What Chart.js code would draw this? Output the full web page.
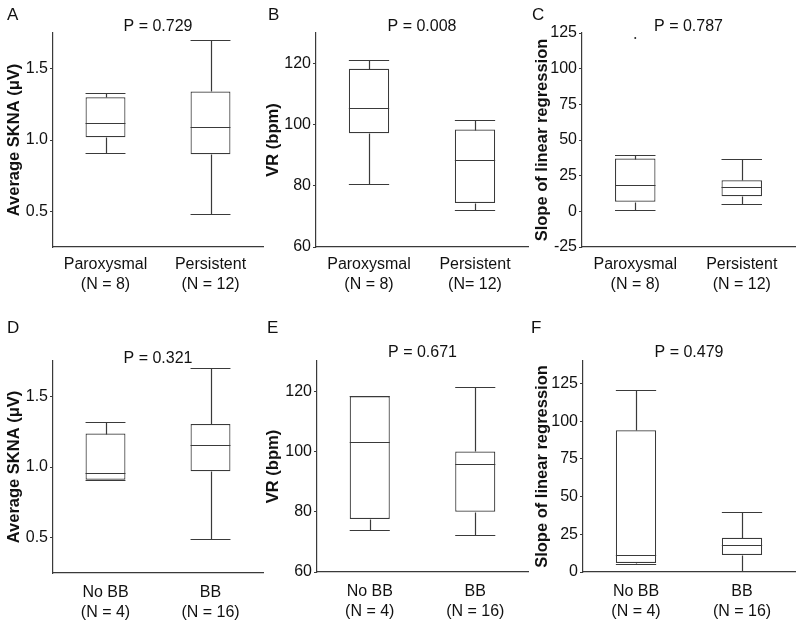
<!DOCTYPE html>
<html>
<head>
<meta charset="utf-8">
<script src="https://cdn.jsdelivr.net/npm/chart.js@4.4.1/dist/chart.umd.min.js"></script>
<style>
  html, body { margin: 0; padding: 0; background: #fff; }
  #wrap { position: relative; width: 800px; height: 624px; overflow: hidden; }
  #wrap canvas { position: absolute; }
</style>
</head>
<body>
<div id="wrap"></div>
<script>
'use strict';

/* ── Categories ─────────────────────────────────────────────────────────── */
const afGroups   = ['Paroxysmal', 'Persistent'];
const afCounts   = ['(N = 8)', '(N = 12)'];
const afCountsB  = ['(N = 8)', '(N= 12)'];
const bbGroups   = ['No BB', 'BB'];
const bbCounts   = ['(N = 4)', '(N = 16)'];

/* ── Tick labels ────────────────────────────────────────────────────────── */
const sknaTicks  = [0.5, 1.0, 1.5];
const vrTicks    = [60, 80, 100, 120];
const slopeTicksC = [-25, 0, 25, 50, 75, 100, 125];
const slopeTicksF = [0, 25, 50, 75, 100, 125];

/* ── A: average SKNA by AF type ─────────────────────────────────────────── */
const aMin = [0.91, 0.48];
const aQ1  = [1.02, 0.90];
const aMed = [1.12, 1.09];
const aQ3  = [1.30, 1.34];
const aMax = [1.33, 1.70];

/* ── B: VR by AF type ───────────────────────────────────────────────────── */
const bMin = [80.7, 72.2];
const bQ1  = [97.2, 74.4];
const bMed = [105.5, 88.4];
const bQ3  = [118.3, 98.4];
const bMax = [121.3, 101.4];

/* ── C: slope by AF type ────────────────────────────────────────────────── */
const cMin = [0.7, 5.4];
const cQ1  = [6.8, 10.6];
const cMed = [18.4, 16.8];
const cQ3  = [37.0, 21.7];
const cMax = [39.8, 37.0];
const cOutlier = [121.5, null];

/* ── D: average SKNA by beta blocker ────────────────────────────────────── */
const dMin = [0.91, 0.49];
const dQ1  = [0.91, 0.97];
const dMed = [0.96, 1.155];
const dQ3  = [1.237, 1.304];
const dMax = [1.321, 1.70];

/* ── E: VR by beta blocker ──────────────────────────────────────────────── */
const eMin = [73.8, 72.3];
const eQ1  = [77.6, 80.0];
const eMed = [103.0, 95.8];
const eQ3  = [118.3, 100.0];
const eMax = [118.3, 121.3];

/* ── F: slope by beta blocker ───────────────────────────────────────────── */
const fMin = [5.5, 0.7];
const fQ1  = [6.0, 11.3];
const fMed = [11.0, 18.0];
const fQ3  = [94.0, 22.7];
const fMax = [121.0, 40.0];

const INK   = '#3a3a3a';
const TEXT  = '#111111';
const FONT  = "'Liberation Sans', Arial, sans-serif";
const X_AXIS_H = 50;

Chart.defaults.font.family = FONT;
Chart.defaults.color = TEXT;

/* ── Whiskers, caps and median drawn on top of the floating box bars ─────── */
const boxplotPlugin = {
  id: 'boxplot',
  afterDatasetsDraw(chart, args, opts) {
    const meta = chart.getDatasetMeta(0);
    const y = chart.scales.y;
    const ctx = chart.ctx;
    const px = v => Math.round(y.getPixelForValue(v)) + 0.5;
    ctx.save();
    ctx.strokeStyle = INK;
    ctx.lineWidth = 1.2;
    meta.data.forEach((el, i) => {
      const half = el.width / 2;
      const x0 = el.x - half, x1 = el.x + half;
      const xc = Math.round(el.x) + 0.5;
      const seg = (ax, ay, bx, by) => { ctx.beginPath(); ctx.moveTo(ax, ay); ctx.lineTo(bx, by); ctx.stroke(); };
      seg(xc, px(opts.q3[i]), xc, px(opts.max[i]));
      seg(xc, px(opts.q1[i]), xc, px(opts.min[i]));
      seg(x0, px(opts.max[i]), x1, px(opts.max[i]));
      seg(x0, px(opts.min[i]), x1, px(opts.min[i]));
      seg(x0, px(opts.med[i]), x1, px(opts.med[i]));
    });
    ctx.restore();
  },
};

/* ── Panel letter and P value ───────────────────────────────────────────── */
const panelTextPlugin = {
  id: 'panelText',
  afterDraw(chart, args, opts) {
    const ctx = chart.ctx;
    const a = chart.chartArea;
    ctx.save();
    ctx.fillStyle = TEXT;
    ctx.textBaseline = 'middle';
    ctx.font = '17px ' + FONT;
    ctx.textAlign = 'left';
    ctx.fillText(opts.letter, opts.letterX, opts.letterY);
    ctx.font = '16px ' + FONT;
    ctx.textAlign = 'center';
    ctx.fillText(opts.p, (a.left + a.right) / 2, opts.pY);
    ctx.restore();
  },
};

function makePanel(p) {
  const canvas = document.createElement('canvas');
  canvas.width = p.box.w;
  canvas.height = p.box.h;
  canvas.style.left = p.box.x + 'px';
  canvas.style.top = p.box.y + 'px';
  canvas.style.width = p.box.w + 'px';
  canvas.style.height = p.box.h + 'px';
  document.getElementById('wrap').appendChild(canvas);

  const datasets = [{
    type: 'bar',
    data: p.q1.map((v, i) => [v, p.q3[i]]),
    backgroundColor: '#ffffff',
    borderColor: INK,
    borderWidth: 1.2,
    borderSkipped: false,
    barPercentage: 0.38,
    categoryPercentage: 1,
  }];
  if (p.outlier) {
    datasets.push({
      type: 'line',
      data: p.outlier,
      showLine: false,
      pointRadius: 1,
      pointBackgroundColor: '#222',
      pointBorderWidth: 0,
    });
  }

  return new Chart(canvas.getContext('2d'), {
    type: 'bar',
    data: { labels: p.groups.map((g, i) => [g, p.counts[i]]), datasets },
    plugins: [boxplotPlugin, panelTextPlugin],
    options: {
      responsive: false,
      devicePixelRatio: 1,
      animation: false,
      layout: {
        padding: {
          left: 0,
          top: p.area.t - p.box.y,
          right: p.box.x + p.box.w - p.area.r,
          bottom: p.box.y + p.box.h - p.area.b - X_AXIS_H,
        },
      },
      plugins: {
        legend: { display: false },
        tooltip: { enabled: false },
        boxplot: { min: p.min, q1: p.q1, med: p.med, q3: p.q3, max: p.max },
        panelText: { letter: p.letter, letterX: p.letterX, letterY: p.letterY, p: p.pText, pY: p.pY },
      },
      scales: {
        x: {
          offset: true,
          grid: { display: false, drawTicks: false },
          border: { display: true, color: INK, width: 1.2 },
          ticks: {
            color: TEXT,
            padding: p.xPad,
            maxRotation: 0,
            autoSkip: false,
            font: { size: 16, lineHeight: 1.25 },
          },
          afterFit: s => { s.height = X_AXIS_H; },
        },
        y: {
          min: p.yMin,
          max: p.yMax,
          grid: { display: true, drawOnChartArea: false, drawTicks: true, tickLength: 3, color: INK, lineWidth: 1 },
          border: { display: true, color: INK, width: 1.2 },
          ticks: {
            color: TEXT,
            padding: 2,
            font: { size: 16 },
            callback: v => p.fmt(v),
          },
          afterBuildTicks: s => { s.ticks = p.ticks.map(v => ({ value: v })); },
          title: {
            display: true,
            text: p.yTitle,
            color: TEXT,
            padding: { top: p.titlePad, bottom: 0 },
            font: { size: 16.5, weight: 'bold', lineHeight: 1.2 },
          },
          afterFit: s => { s.width = p.area.l - p.box.x; },
        },
      },
    },
  });
}

const fix1 = v => v.toFixed(1);
const plain = v => String(v);

const panels = [
  { letter: 'A', pText: 'P = 0.729', groups: afGroups, counts: afCounts, yTitle: 'Average SKNA (\u03bcV)',
    min: aMin, q1: aQ1, med: aMed, q3: aQ3, max: aMax, yMin: 0.25, yMax: 1.75, ticks: sknaTicks, fmt: fix1,
    box: { x: 0, y: 0, w: 264, h: 310 }, area: { l: 53, r: 263, t: 33, b: 247 },
    letterX: 7, letterY: 15, pY: 27, titlePad: 5, xPad: 8 },
  { letter: 'B', pText: 'P = 0.008', groups: afGroups, counts: afCountsB, yTitle: 'VR (bpm)',
    min: bMin, q1: bQ1, med: bMed, q3: bQ3, max: bMax, yMin: 60, yMax: 130, ticks: vrTicks, fmt: plain,
    box: { x: 264, y: 0, w: 266, h: 310 }, area: { l: 316, r: 528, t: 33, b: 247 },
    letterX: 4, letterY: 15, pY: 27, titlePad: 0, xPad: 8 },
  { letter: 'C', pText: 'P = 0.787', groups: afGroups, counts: afCounts, yTitle: 'Slope of linear regression',
    min: cMin, q1: cQ1, med: cMed, q3: cQ3, max: cMax, outlier: cOutlier, yMin: -25, yMax: 125, ticks: slopeTicksC, fmt: plain,
    box: { x: 530, y: 0, w: 270, h: 310 }, area: { l: 582, r: 795, t: 33, b: 247 },
    letterX: 2, letterY: 15, pY: 27, titlePad: 3, xPad: 8 },
  { letter: 'D', pText: 'P = 0.321', groups: bbGroups, counts: bbCounts, yTitle: 'Average SKNA (\u03bcV)',
    min: dMin, q1: dQ1, med: dMed, q3: dQ3, max: dMax, yMin: 0.25, yMax: 1.75, ticks: sknaTicks, fmt: fix1,
    box: { x: 0, y: 310, w: 264, h: 314 }, area: { l: 53, r: 263, t: 361, b: 573 },
    letterX: 7, letterY: 18, pY: 49, titlePad: 5, xPad: 10 },
  { letter: 'E', pText: 'P = 0.671', groups: bbGroups, counts: bbCounts, yTitle: 'VR (bpm)',
    min: eMin, q1: eQ1, med: eMed, q3: eQ3, max: eMax, yMin: 60, yMax: 130, ticks: vrTicks, fmt: plain,
    box: { x: 264, y: 310, w: 266, h: 314 }, area: { l: 317, r: 528, t: 361, b: 572 },
    letterX: 3, letterY: 18, pY: 43, titlePad: 0, xPad: 10 },
  { letter: 'F', pText: 'P = 0.479', groups: bbGroups, counts: bbCounts, yTitle: 'Slope of linear regression',
    min: fMin, q1: fQ1, med: fMed, q3: fQ3, max: fMax, yMin: 0, yMax: 140, ticks: slopeTicksF, fmt: plain,
    box: { x: 530, y: 310, w: 270, h: 314 }, area: { l: 583, r: 795, t: 361, b: 572 },
    letterX: 1, letterY: 18, pY: 43, titlePad: 3, xPad: 10 },
];

panels.forEach(makePanel);
</script>
</body>
</html>
